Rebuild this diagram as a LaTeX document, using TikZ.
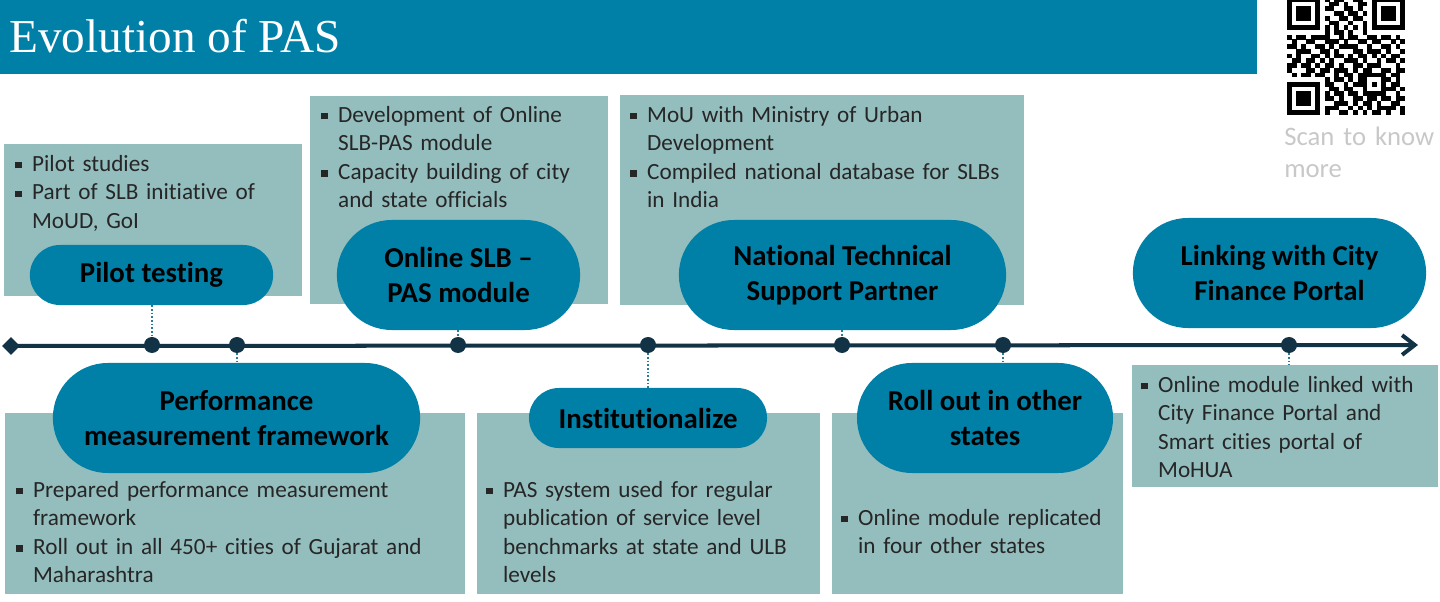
\documentclass[tikz,border=0pt]{standalone}
\usepackage{fontspec}
\setmainfont{Carlito}[Ligatures=NoCommon]
\newfontfamily\tieudefont{Liberation Serif}
\usetikzlibrary{shapes.misc,shapes.geometric,arrows.meta}
\definecolor{xanhdam}{RGB}{1,128,167}
\definecolor{xanhnhat}{RGB}{148,189,189}
\definecolor{truc}{RGB}{18,50,70}
\definecolor{chamxanh}{RGB}{40,125,150}
\definecolor{xam}{RGB}{200,200,200}
% dau gach dau dong
\newcommand{\gachdau}{\hangindent=12pt\hangafter=1\noindent\strut\makebox[12pt][l]{\raisebox{2pt}{\rule{4.6pt}{4.6pt}}}}
% ma QR: moi dong la mot chuoi 0/1
\newcount\qrcot
\def\qrve#1{\ifx#1\relax\else
	\ifx#11\fill[black] ({1287+\the\qrcot*4.72},{-3+\qrdong*4.72}) rectangle ++(4.78,4.78);\fi
	\advance\qrcot by 1
	\expandafter\qrve\fi}
\begin{document}
\begin{tikzpicture}[x=0.025cm,y=-0.025cm,font=\fontsize{16.5}{20.3}\selectfont,line join=round,line cap=round,
	hop/.style={fill=xanhnhat,inner sep=0},
	vien/.style={rounded rectangle,fill=xanhdam,inner sep=0,align=center,text=black,font=\bfseries\fontsize{20.5}{25}\selectfont},
	cham/.style={circle,fill=truc,inner sep=0,minimum size=0.4cm},
	noi/.style={chamxanh,line width=1.5pt,line cap=butt,dash pattern=on 1.3pt off 1.3pt},
	chu/.style={anchor=north west,inner sep=0,text width=14cm,align=left,text=black!85}]
	\useasboundingbox (0,0) rectangle (1440,602);
	% Thanh tieu de
	\fill[xanhdam] (0,0) rectangle (1257,74);
	\node[anchor=base west,inner sep=0,text=white,font=\tieudefont\fontsize{33.6}{40}\selectfont] (tieude) at (9,53) {Evolution of PAS};
	% Ma QR va chu thich
	\foreach \hang [count=\qrdong from 0] in {1111111010110011001111111,1000001001101001101000001,1011101011001101001011101,
		1011101000110110101011101,1011101010011011001011101,1000001001100100101000001,1111111010101010101111111,
		0000000010110100100000000,1011011110010110011011010,0100110011101001101100101,1101001101011110010011010,
		0011100110100011011101001,1010011010110101101010110,0110110101001110100101101,1101101011010011011100010,
		1000110110111010110011011,0101101100101101111110110,0000000010110101100011010,1111111011001011101010110,
		1000001001101100100011101,1011101010110110111110010,1011101011010011011011011,1011101000111010110100110,
		1000001011100101010111101,1111111010011010101101001}
		{\qrcot=0 \expandafter\qrve\hang\relax}
	\node[anchor=north west,inner sep=0,text width=4cm,align=left,text=xam,font=\fontsize{19}{22.8}\selectfont] (quet) at (1284,122.6) {\strut Scan to know\newline more\par};
	% Cac khung nen
	\node[hop,minimum width=7.45cm,minimum height=3.8cm] (hop1) at (153,220) {};
	\node[hop,minimum width=7.45cm,minimum height=5.2cm] (hop2) at (459,200) {};
	\node[hop,minimum width=10.1cm,minimum height=5.25cm] (hop3) at (822,200) {};
	\node[hop,minimum width=11.5cm,minimum height=4.525cm] (hop4) at (235,503.5) {};
	\node[hop,minimum width=8.575cm,minimum height=4.525cm] (hop5) at (648.5,503.5) {};
	\node[hop,minimum width=7.275cm,minimum height=4.525cm] (hop6) at (977.5,503.5) {};
	\node[hop,minimum width=7.65cm,minimum height=3.05cm] (hop7) at (1285,426) {};
	% Noi dung cac khung
	\node[chu] (chu1) at (15,151) {\gachdau Pilot studies\par\gachdau Part of SLB initiative of\newline MoUD, GoI\par};
	\node[chu] (chu2) at (321,102) {\gachdau Development of Online\newline SLB-PAS module\par\gachdau Capacity building of city\newline and state officials\par};
	\node[chu] (chu3) at (630,102) {\gachdau MoU with Ministry of Urban\newline Development\par\gachdau Compiled national database for SLBs\newline in India\par};
	\node[chu] (chu4) at (16,477) {\gachdau Prepared performance measurement\newline framework\par\gachdau Roll out in all 450+ cities of Gujarat and\newline Maharashtra\par};
	\node[chu] (chu5) at (486,477) {\gachdau PAS system used for regular\newline publication of service level\newline benchmarks at state and ULB\newline levels\par};
	\node[chu] (chu6) at (841,505) {\gachdau Online module replicated\newline in four other states\par};
	\node[chu] (chu7) at (1141,372) {\gachdau Online module linked with\newline City Finance Portal and\newline Smart cities portal of\newline MoHUA\par};
	% Truc thoi gian
	\node[diamond,fill=truc,inner sep=0,minimum size=0.45cm] (batdau) at (11,346) {};
	\coordinate (ketthuc) at (1418,345);
	\draw[truc,line width=2.85pt,-{Straight Barb[length=9pt,width=14pt]}] (batdau.center) -- (ketthuc);
	% Cac moc
	\node[vien,minimum width=6.08cm,minimum height=1.5cm] (pilot) at (151.5,275) {Pilot testing};
	\node[vien,minimum width=6.08cm,minimum height=2.75cm] (online) at (458.5,275) {Online SLB --\\PAS module};
	\node[vien,minimum width=8.18cm,minimum height=2.75cm] (quocgia) at (842.5,275) {National Technical\\Support Partner};
	\node[vien,minimum width=7.33cm,minimum height=2.75cm] (lienket) at (1279.5,273) {Linking with City\\Finance Portal};
	\node[vien,minimum width=9.18cm,minimum height=2.75cm] (khung) at (236.5,418) {Performance\\measurement framework};
	\node[vien,minimum width=5.95cm,minimum height=1.5cm] (thechehoa) at (648,418) {Institutionalize};
	\node[vien,minimum width=6.4cm,minimum height=2.75cm] (mororng) at (985,418) {Roll out in other\\states};
	% Cac diem tren truc
	\node[cham] (d1) at (152,345) {};
	\node[cham] (d2) at (237,345) {};
	\node[cham] (d3) at (458,345) {};
	\node[cham] (d4) at (648,345) {};
	\node[cham] (d5) at (842,345) {};
	\node[cham] (d6) at (1003,345) {};
	\node[cham] (d7) at (1289,345) {};
	% Duong cham noi
	\draw[noi] (d1 |- pilot.south) -- (d1);
	\draw[noi] (d3 |- online.south) -- (d3);
	\draw[noi] (d5 |- quocgia.south) -- (d5);
	\draw[noi] (d2) -- (d2 |- khung.north);
	\draw[noi] (d4) -- (d4 |- thechehoa.north);
	\draw[noi] (d6) -- (d6 |- mororng.north);
	\draw[noi] (d7) -- (d7 |- hop7.north);
\end{tikzpicture}
\end{document}
